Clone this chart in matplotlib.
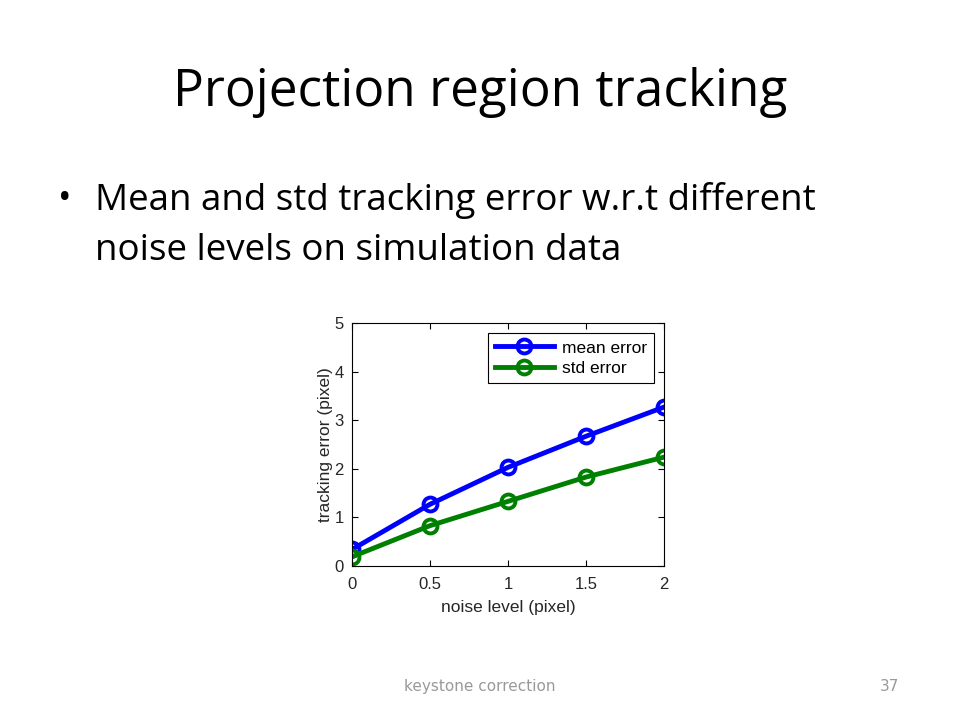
import matplotlib
matplotlib.use("Agg")
import matplotlib.pyplot as plt

# data
noise_level = [0, 0.5, 1, 1.5, 2]
mean_error = [0.34, 1.27, 2.03, 2.67, 3.27]
std_error = [0.19, 0.83, 1.33, 1.83, 2.24]

x_ticks = [0, 0.5, 1, 1.5, 2]
x_tick_labels = ["0", "0.5", "1", "1.5", "2"]
y_ticks = [0, 1, 2, 3, 4, 5]

fig = plt.figure(figsize=(9.6, 7.2), dpi=100)

# slide text
fig.text(0.5, 0.872, "Projection region tracking", ha="center", va="center",
         fontsize=37, family="Open Sans")
fig.text(0.067, 0.722, "\u2022", ha="center", va="center", fontsize=26, family="Open Sans")
fig.text(0.099, 0.722, "Mean and std tracking error w.r.t different",
         ha="left", va="center", fontsize=26.5, family="Open Sans")
fig.text(0.099, 0.652, "noise levels on simulation data",
         ha="left", va="center", fontsize=26.5, family="Open Sans")
fig.text(0.5, 0.047, "keystone correction", ha="center", va="center",
         fontsize=11, color="#999999")
fig.text(0.927, 0.047, "37", ha="center", va="center", fontsize=11, color="#999999")

ax = fig.add_axes([0.3667, 0.2139, 0.325, 0.3375])
ax.plot(noise_level, mean_error, "-o", color="#0000ff", lw=3.5, ms=10,
        mfc="none", mew=2.8, label="mean error")
ax.plot(noise_level, std_error, "-o", color="#008000", lw=3.5, ms=10,
        mfc="none", mew=2.8, label="std error")

ax.set_xlim(0, 2)
ax.set_ylim(0, 5)
ax.set_xticks(x_ticks)
ax.set_xticklabels(x_tick_labels)
ax.set_yticks(y_ticks)
ax.tick_params(direction="in", top=True, right=True, labelsize=12, length=4)
ax.tick_params(axis="x", pad=8)
ax.tick_params(axis="y", pad=6)
for lab in ax.get_xticklabels() + ax.get_yticklabels():
    lab.set_family("Liberation Sans")
    lab.set_color("#262626")
ax.set_xlabel("noise level (pixel)", fontsize=12.5, family="Liberation Sans",
              color="#262626", labelpad=6)
ax.set_ylabel("tracking error (pixel)", fontsize=12.5, family="Liberation Sans",
              color="#262626")
ax.yaxis.set_label_coords(-0.06, 0.5)

leg = ax.legend(loc="upper right", fancybox=False, framealpha=1,
                edgecolor="black", prop={"family": "Liberation Sans", "size": 12.5},
                handlelength=3.4, borderaxespad=0.6, labelspacing=0.3,
                borderpad=0.4, handletextpad=0.45)
leg.get_frame().set_linewidth(0.8)

fig.savefig("out.png", dpi=100)
